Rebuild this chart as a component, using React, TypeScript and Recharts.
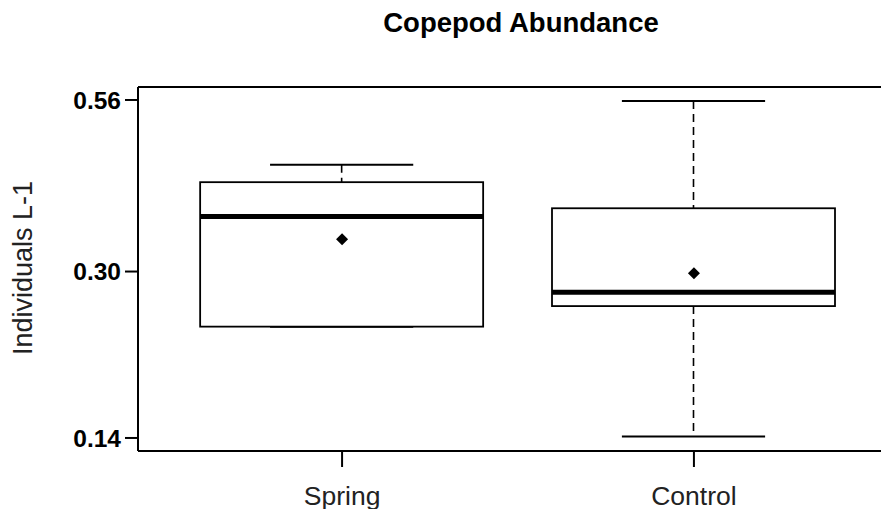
import { ComposedChart, Bar, Scatter, XAxis, YAxis, ReferenceLine } from "recharts"

const categories = ["Spring", "Control"]
const positions = [1, 2]
const whiskerLow = [0.238, 0.141]
const lowerQuartile = [0.238, 0.26]
const medians = [0.372, 0.2756]
const upperQuartile = [0.422, 0.3835]
const whiskerHigh = [0.449, 0.558]
const means = [0.341, 0.298]
const yTickValues = [0.14, 0.3, 0.56]
const yDomainRaw = [0.1307, 0.5842]
const xDomain = [0.42, 2.58]

// the y axis is drawn on a cube-root scale
const fwd = (v: number) => Math.cbrt(v)

const data = categories.map((name, i) => ({
  name,
  pos: positions[i],
  range: [fwd(whiskerLow[i]), fwd(whiskerHigh[i])],
  q1: fwd(lowerQuartile[i]),
  med: fwd(medians[i]),
  q3: fwd(upperQuartile[i]),
  mean: fwd(means[i]),
}))

const FONT = '"Liberation Sans", Arial, Helvetica, sans-serif'

function BoxShape(props: any) {
  const { x, y, width, height, payload } = props
  const [lo, hi] = payload.range
  const py = (v: number) => y + ((hi - v) / (hi - lo)) * height
  const cx = x + width / 2
  const capHalf = width * 0.253
  const yHi = py(hi)
  const yLo = py(lo)
  const yQ3 = py(payload.q3)
  const yQ1 = py(payload.q1)
  const yMed = py(payload.med)
  return (
    <g>
      <line x1={cx} x2={cx} y1={yHi} y2={yQ3} stroke="#000" strokeWidth={1.6} strokeDasharray="8 5" />
      <line x1={cx} x2={cx} y1={yQ1} y2={yLo} stroke="#000" strokeWidth={1.6} strokeDasharray="8 5" />
      <line x1={cx - capHalf} x2={cx + capHalf} y1={yHi} y2={yHi} stroke="#000" strokeWidth={2} />
      <line x1={cx - capHalf} x2={cx + capHalf} y1={yLo} y2={yLo} stroke="#000" strokeWidth={2} />
      <rect x={x} y={yQ3} width={width} height={yQ1 - yQ3} fill="#fff" stroke="#000" strokeWidth={1.8} />
      <line x1={x} x2={x + width} y1={yMed} y2={yMed} stroke="#000" strokeWidth={5} />
    </g>
  )
}

function Diamond(props: any) {
  const { cx, cy } = props
  return <polygon points={`${cx},${cy - 6} ${cx + 6},${cy} ${cx},${cy + 6} ${cx - 6},${cy}`} fill="#000" />
}

export default function App() {
  return (
    <div
      style={{
        position: "relative",
        width: 889,
        height: 517,
        margin: -8,
        overflow: "hidden",
        background: "#fff",
        fontFamily: FONT,
      }}
    >
      <div
        style={{
          position: "absolute",
          left: 521,
          top: 9,
          transform: "translateX(-50%)",
          fontSize: 27.5,
          fontWeight: 700,
          lineHeight: 1,
          whiteSpace: "nowrap",
          color: "#000",
        }}
      >
        Copepod Abundance
      </div>
      <div
        style={{
          position: "absolute",
          left: 23,
          top: 268,
          transform: "translate(-50%, -50%) rotate(-90deg)",
          fontSize: 27,
          lineHeight: 1,
          whiteSpace: "nowrap",
          color: "#222",
        }}
      >
        Individuals L-1
      </div>
      <ComposedChart width={889} height={517} data={data} margin={{ top: 87, right: -9, bottom: 0, left: 0 }}>
        <XAxis
          dataKey="pos"
          type="number"
          domain={xDomain}
          ticks={positions}
          allowDataOverflow
          height={66}
          axisLine={{ stroke: "#000", strokeWidth: 2 }}
          tickSize={16}
          tickMargin={19}
          tickLine={{ stroke: "#000", strokeWidth: 2 }}
          tick={{ fill: "#222", fontSize: 26.5, fontFamily: FONT }}
          tickFormatter={(v: number) => categories[positions.indexOf(v)]}
        />
        <YAxis
          type="number"
          domain={[fwd(yDomainRaw[0]), fwd(yDomainRaw[1])]}
          ticks={yTickValues.map(fwd)}
          allowDataOverflow
          width={138}
          axisLine={{ stroke: "#000", strokeWidth: 2 }}
          tickSize={13}
          tickMargin={4}
          tickLine={{ stroke: "#000", strokeWidth: 2 }}
          tick={{ fill: "#000", fontSize: 24.5, fontWeight: 700, fontFamily: FONT }}
          tickFormatter={(v: number) => Math.pow(v, 3).toFixed(2)}
        />
        <ReferenceLine y={fwd(yDomainRaw[1])} stroke="#000" strokeWidth={2} ifOverflow="visible" />
        <Bar dataKey="range" barSize={283} shape={BoxShape} isAnimationActive={false} />
        <Scatter dataKey="mean" shape={Diamond} isAnimationActive={false} />
      </ComposedChart>
    </div>
  )
}
